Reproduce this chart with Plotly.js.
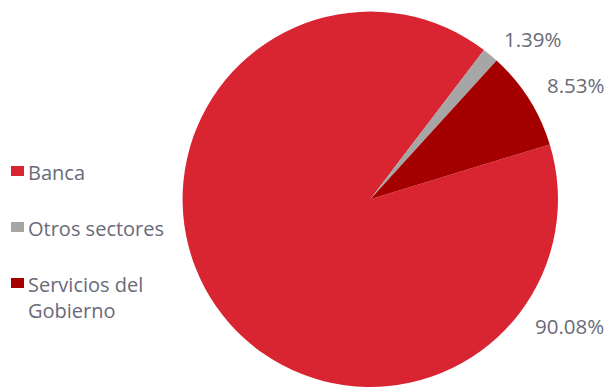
<!DOCTYPE html>
<html>
<head>
<meta charset="utf-8">
<script src="https://cdn.plot.ly/plotly-3.0.1.min.js"></script>
<style>html,body{margin:0;padding:0;background:#fff}#chart{width:610px;height:387px}</style>
</head>
<body>
<div id="chart"></div>
<script>
const categories = ["Banca", "Otros sectores", "Servicios del<br>Gobierno"];
const values = [90.08, 1.39, 8.53];
const colors = ["#d92432", "#a6a6a6", "#a50000"];
const valueLabels = values.map(v => v.toFixed(2) + "%");

const W = 610, H = 387;
const px = x => x / W;
const py = y => 1 - y / H;
const textColor = "#6a6a78";

// label anchor positions (pixels) for the percentage labels
const labelPos = [[569, 326], [533, 39], [576, 85]];
// legend row centre (pixels)
const legendRows = [171, 227, 283];

const annotations = [];
const shapes = [];
values.forEach((v, i) => {
  annotations.push({
    xref: "paper", yref: "paper", x: px(labelPos[i][0]), y: py(labelPos[i][1]),
    xanchor: "center", yanchor: "middle", showarrow: false,
    text: valueLabels[i], font: {family: "Open Sans", size: 20.5, color: textColor}
  });
  annotations.push({
    xref: "paper", yref: "paper", x: px(26), y: py(legendRows[i] - 14),
    xanchor: "left", yanchor: "top", align: "left", showarrow: false,
    text: categories[i], font: {family: "Open Sans", size: 20, color: textColor}
  });
  shapes.push({
    type: "rect", xref: "paper", yref: "paper",
    x0: px(11), x1: px(24), y0: py(legendRows[i] - 5), y1: py(legendRows[i] + 5),
    fillcolor: colors[i], line: {width: 0}
  });
});

const trace = {
  type: "pie",
  labels: categories,
  values: values,
  marker: {colors: colors, line: {width: 0}},
  sort: false,
  direction: "clockwise",
  rotation: 73,
  textinfo: "none",
  hoverinfo: "label+percent",
  domain: {x: [0.297, 0.917], y: [0, 0.97]},
  showlegend: false
};

const layout = {
  width: W, height: H,
  margin: {l: 0, r: 0, t: 0, b: 0},
  paper_bgcolor: "#ffffff",
  plot_bgcolor: "#ffffff",
  showlegend: false,
  annotations: annotations,
  shapes: shapes
};

Plotly.newPlot("chart", [trace], layout, {displayModeBar: false, staticPlot: true});
</script>
</body>
</html>
